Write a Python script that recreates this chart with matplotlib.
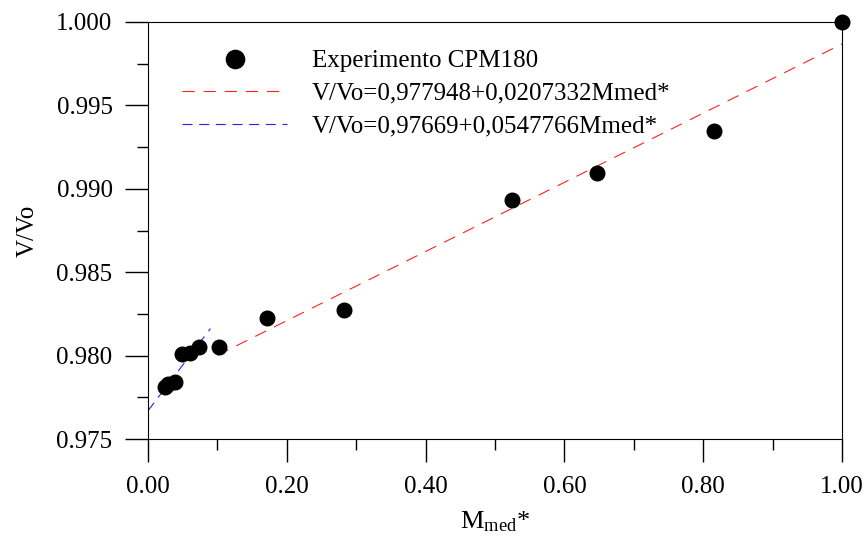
import matplotlib
matplotlib.use("Agg")
import matplotlib.pyplot as plt
import numpy as np
from matplotlib.ticker import MultipleLocator, FormatStrFormatter

plt.rcParams['font.family'] = ['Liberation Serif', 'DejaVu Serif']
plt.rcParams['mathtext.fontset'] = 'custom'
plt.rcParams['mathtext.rm'] = 'Liberation Serif'
plt.rcParams['mathtext.it'] = 'Liberation Serif:italic'

x_exp = [0.0245, 0.0288, 0.0389, 0.049, 0.0605, 0.0735, 0.1023, 0.1715, 0.2824, 0.5245, 0.647, 0.8156, 1.0]
y_exp = [0.97812, 0.97830, 0.97842, 0.98010, 0.98016, 0.98052, 0.98052, 0.98225, 0.98273, 0.98933, 0.99095, 0.99347, 1.0]

red_a, red_b = 0.977948, 0.0207332
red_range = [0.1, 1.0]
blue_a, blue_b = 0.97669, 0.0547766
blue_range = [0.0, 0.09]

fig = plt.figure(figsize=(8.68, 5.41), dpi=100)
ax = fig.add_axes([148/868, 1-439/541, (842-148)/868, (439-22)/541])

ax.plot(x_exp, y_exp, 'o', color='black', markersize=10.5, label='Experimento CPM180', zorder=3, clip_on=False)
xr = np.array(red_range)
ax.plot(xr, red_a + red_b*xr, color='#ff2020', lw=0.8, dashes=(11, 8), label='V/Vo=0,977948+0,0207332Mmed*')
xb = np.array(blue_range)
ax.plot(xb, blue_a + blue_b*xb, color='#2020ff', lw=0.8, dashes=(9, 6), label='V/Vo=0,97669+0,0547766Mmed*')

ax.set_xlim(0, 1.0)
ax.set_ylim(0.975, 1.0)
ax.xaxis.set_major_locator(MultipleLocator(0.2))
ax.xaxis.set_minor_locator(MultipleLocator(0.1))
ax.yaxis.set_major_locator(MultipleLocator(0.005))
ax.yaxis.set_minor_locator(MultipleLocator(0.0025))
ax.xaxis.set_major_formatter(FormatStrFormatter('%.2f'))
ax.yaxis.set_major_formatter(FormatStrFormatter('%.3f'))
ax.tick_params(which='major', direction='out', length=16.5, width=1, labelsize=18)
ax.tick_params(which='minor', direction='out', length=8, width=1)
ax.tick_params(axis='x', which='major', pad=10)
ax.tick_params(axis='y', which='major', pad=9)

ax.set_xlabel('M$_{\\mathrm{med}}$*', fontsize=19, labelpad=8)
ax.set_ylabel('V/Vo', fontsize=18, labelpad=13)

leg = ax.legend(loc='upper left', bbox_to_anchor=(0.049, 0.933), frameon=False, fontsize=18,
                borderaxespad=0, borderpad=0,
                markerscale=1.25, handlelength=4.2, handletextpad=1.0, labelspacing=0.4)

fig.savefig('out.png', dpi=100)
